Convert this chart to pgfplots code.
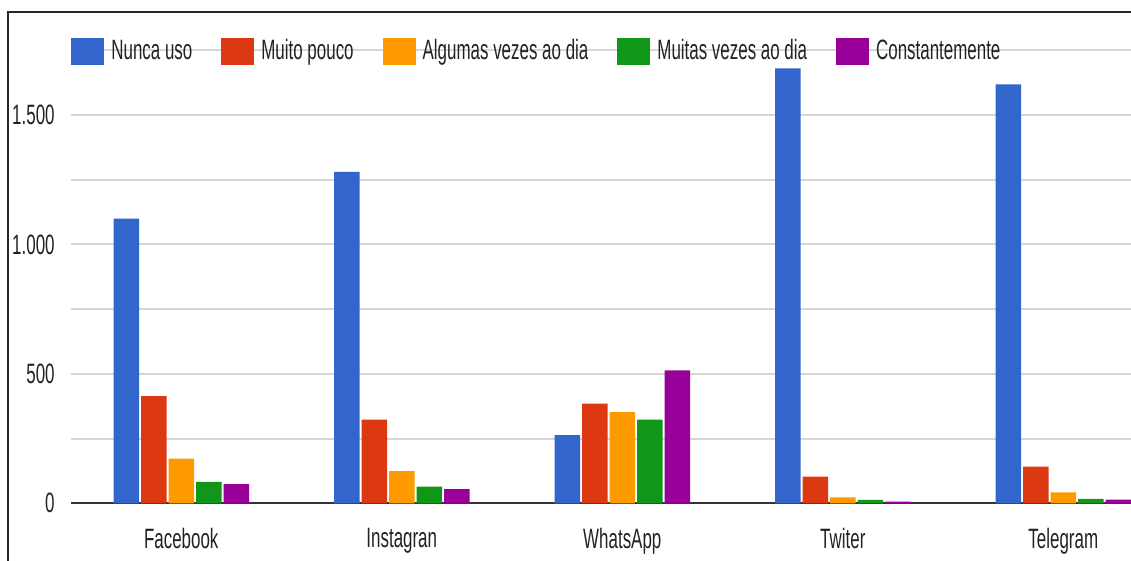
\documentclass[border=0pt]{standalone}
\usepackage{pgfplots}
\pgfplotsset{compat=1.18}
\usepackage{fontspec}
\setmainfont{Liberation Sans}[FakeStretch=0.605]
\definecolor{gblue}{HTML}{3366CC}
\definecolor{gred}{HTML}{DC3912}
\definecolor{gorange}{HTML}{FF9900}
\definecolor{ggreen}{HTML}{109618}
\definecolor{gpurple}{HTML}{990099}
\definecolor{txt}{HTML}{222222}
\begin{document}
\begin{tikzpicture}
\fontsize{14pt}{16pt}\selectfont
\path[use as bounding box] (0,0) rectangle (565.5pt,280.5pt);
\clip (0,0) rectangle (565.5pt,280.5pt);
\begin{axis}[
  at={(35.5pt,28.85pt)}, anchor=south west,
  scale only axis, width=530pt, height=226.5pt,
  xmin=-0.5, xmax=4.307, ymin=0, ymax=1750,
  axis line style={draw=none},
  major tick length=0pt, minor tick length=0pt,
  tick style={draw=none},
  ytick={0,500,1000,1500},
  minor ytick={250,750,1250,1750},
  ymajorgrids, yminorgrids,
  major grid style={black!16, line width=1pt},
  minor grid style={black!16, line width=1pt},
  extra y ticks={0}, extra y tick labels={},
  extra y tick style={major grid style={black!80, line width=1pt}},
  xtick={0,1,2,3,4},
  xticklabels={Facebook,Instagran,WhatsApp,Twiter,Telegram},
  xticklabel style={inner sep=0pt, text=txt, font=\fontsize{14pt}{16pt}\selectfont},
  xticklabel shift=12.5pt,
  yticklabel style={inner sep=0pt, text=txt, font=\fontsize{14pt}{16pt}\selectfont},
  yticklabel shift=8pt,
  /pgf/number format/1000 sep={.},
  /pgf/number format/assume math mode=true,
  ybar=1pt, bar width=12.75pt,
  legend columns=5,
  legend image code/.code={\fill[#1] (0pt,-6.75pt) rectangle (16.5pt,6.75pt);},
  legend style={at={(rel axis cs:0,0.997)}, anchor=west,
    draw=none, fill=none, inner sep=0pt,
    font=\fontsize{14pt}{16pt}\selectfont, text=txt,
    nodes={inner sep=0pt},
    /tikz/every odd column/.append style={column sep=3.5pt},
    /tikz/every even column/.append style={column sep=14.5pt}},
]
\addplot[fill=gblue, draw=none] coordinates {(0,1100) (1,1280) (2,263) (3,1680) (4,1618)};
\addplot[fill=gred, draw=none] coordinates {(0,414) (1,323) (2,385) (3,103) (4,142)};
\addplot[fill=gorange, draw=none] coordinates {(0,173) (1,124) (2,352) (3,23) (4,42)};
\addplot[fill=ggreen, draw=none] coordinates {(0,83) (1,64) (2,323) (3,13) (4,17)};
\addplot[fill=gpurple, draw=none] coordinates {(0,74) (1,55) (2,513) (3,6) (4,14)};
\legend{Nunca uso, Muito pouco, Algumas vezes ao dia, Muitas vezes ao dia, Constantemente}
\end{axis}
\draw[line width=1pt, black!85] (4pt,0pt) -- (4pt,274.5pt) -- (565.5pt,274.5pt);
\end{tikzpicture}
\end{document}
